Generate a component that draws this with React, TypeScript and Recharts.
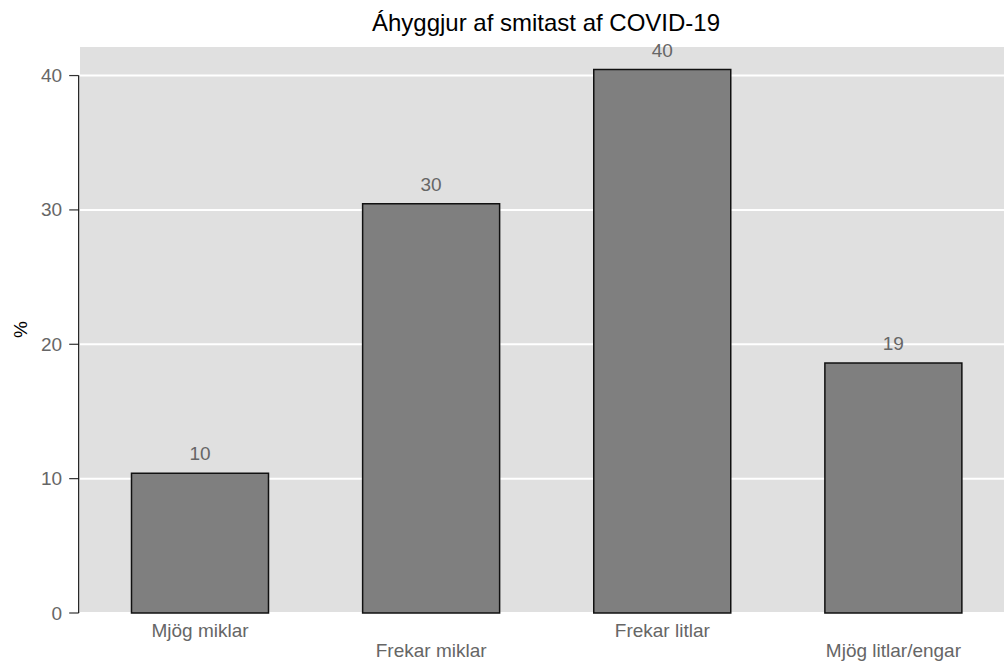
import React from 'react';
import {
  BarChart,
  Bar,
  XAxis,
  YAxis,
  CartesianGrid,
  LabelList,
} from 'recharts';

const categories = ['Mjög miklar', 'Frekar miklar', 'Frekar litlar', 'Mjög litlar/engar'];
const percents = [10.4, 30.45, 40.45, 18.6];
const yTicks = [0, 10, 20, 30, 40];

const data = categories.map((name, i) => ({ name, value: percents[i] }));

const FONT = '"Liberation Sans", Arial, sans-serif';
const TICK_COLOR = '#666666';
const PLOT_LEFT = 80;
const PLOT_TOP = 46;
const X_AXIS_H = 51;
const CHART_W = 1012;
const CHART_H = 664;
const PLOT_BOTTOM = CHART_H - X_AXIS_H;

function YTick(props: any) {
  const { y, payload } = props;
  const axisX = PLOT_LEFT - 1.3;
  return (
    <g>
      <line x1={axisX - 9.5} x2={axisX} y1={y} y2={y} stroke="#333" strokeWidth={1.2} />
      {payload.value === yTicks[yTicks.length - 1] && (
        <line x1={axisX} x2={axisX} y1={y} y2={PLOT_BOTTOM} stroke="#111" strokeWidth={1.2} />
      )}
      <text
        x={axisX - 16.5}
        y={y}
        dy={6.5}
        textAnchor="end"
        fill={TICK_COLOR}
        fontSize={19}
        fontFamily={FONT}
      >
        {payload.value}
      </text>
    </g>
  );
}

function XTick(props: any) {
  const { x, payload, index } = props;
  const baseline = PLOT_BOTTOM + (index % 2 === 0 ? 24 : 44);
  return (
    <text x={x} y={baseline} textAnchor="middle" fill={TICK_COLOR} fontSize={19} fontFamily={FONT}>
      {payload.value}
    </text>
  );
}

export default function App() {
  return (
    <div
      style={{
        position: 'absolute',
        left: 0,
        top: 0,
        width: 1004,
        height: 664,
        overflow: 'hidden',
        background: '#fff',
      }}
    >
      <div
        style={{
          position: 'absolute',
          left: 0,
          top: 11,
          width: 1092,
          textAlign: 'center',
          fontFamily: FONT,
          fontSize: 24,
          lineHeight: '24px',
          color: '#000',
        }}
      >
        Áhyggjur af smitast af COVID-19
      </div>
      <BarChart
        width={CHART_W}
        height={CHART_H}
        data={data}
        margin={{ top: PLOT_TOP, right: 3, bottom: 0, left: 0 }}
      >
        <CartesianGrid
          vertical={false}
          fill="#e0e0e0"
          stroke="#ffffff"
          strokeWidth={2}
        />
        <XAxis
          dataKey="name"
          height={X_AXIS_H}
          axisLine={false}
          tickLine={false}
          interval={0}
          padding={{ left: 4.5, right: 0 }}
          tick={<XTick />}
        />
        <YAxis
          width={PLOT_LEFT}
          domain={[0, 42.2]}
          ticks={yTicks}
          axisLine={false}
          tickLine={false}
          tick={<YTick />}
          label={({ viewBox }: any) => (
            <text
              x={20.5}
              y={viewBox.y + viewBox.height / 2}
              transform={`rotate(-90 20.5 ${viewBox.y + viewBox.height / 2})`}
              textAnchor="middle"
              dominantBaseline="central"
              fill="#000"
              fontSize={19}
              fontFamily={FONT}
            >
              %
            </text>
          )}
        />
        <Bar
          dataKey="value"
          fill="#7f7f7f"
          stroke="#111111"
          strokeWidth={1.5}
          barSize={137}
          isAnimationActive={false}
        >
          <LabelList
            dataKey="value"
            position="top"
            offset={13}
            formatter={(v: any) => Math.round(Number(v))}
            fill={TICK_COLOR}
            fontSize={19}
            fontFamily={FONT}
          />
        </Bar>
      </BarChart>
    </div>
  );
}
